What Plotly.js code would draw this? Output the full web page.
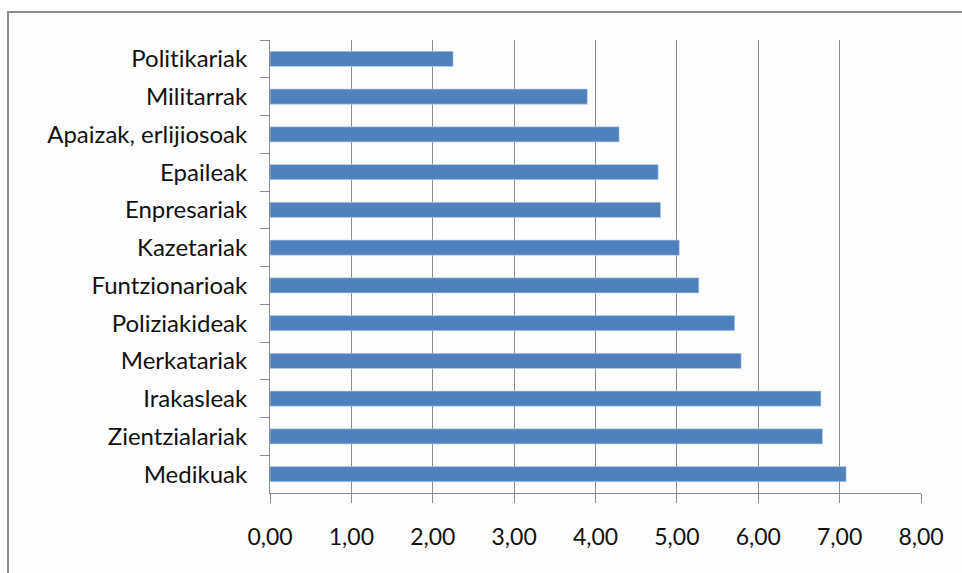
<!DOCTYPE html>
<html>
<head>
<meta charset="utf-8">
<script src="https://cdn.plot.ly/plotly-3.0.1.min.js"></script>
<style>
  html, body { margin: 0; padding: 0; background: #ffffff; }
  #wrap { position: relative; width: 962px; height: 573px; overflow: hidden; }
  #frame { position: absolute; left: 7px; top: 11px; width: 1000px; height: 600px;
           border-left: 2px solid #8c8c8c; border-top: 2px solid #8c8c8c;
           background: #fdfdfd; box-sizing: border-box; }
  #chart { position: absolute; left: 0; top: 0; width: 962px; height: 573px; }
  #chart text { font-variant-ligatures: none; font-feature-settings: "liga" 0, "clig" 0; }
</style>
</head>
<body>
<div id="wrap">
  <div id="frame"></div>
  <div id="chart"></div>
</div>
<script>
const categories = ["Politikariak", "Militarrak", "Apaizak, erlijiosoak", "Epaileak", "Enpresariak",
  "Kazetariak", "Funtzionarioak", "Poliziakideak", "Merkatariak", "Irakasleak", "Zientzialariak", "Medikuak"];
const values = [2.25, 3.90, 4.29, 4.77, 4.80, 5.03, 5.27, 5.71, 5.79, 6.77, 6.79, 7.08];
const xTickValues = [0, 1, 2, 3, 4, 5, 6, 7, 8];
const xTickLabels = ["0,00", "1,00", "2,00", "3,00", "4,00", "5,00", "6,00", "7,00", "8,00"];

const trace = {
  type: "bar",
  orientation: "h",
  y: categories,
  x: values,
  marker: { color: "#4f81bd", line: { color: "#c5d5ea", width: 0.6 } },
  hoverinfo: "x+y"
};

const layout = {
  width: 962,
  height: 573,
  margin: { l: 270, r: 41, t: 40, b: 80 },
  paper_bgcolor: "rgba(0,0,0,0)",
  plot_bgcolor: "rgba(0,0,0,0)",
  bargap: 0.6,
  showlegend: false,
  font: { family: "Lato, 'Open Sans', sans-serif", size: 23, color: "#111111" },
  xaxis: {
    range: [0, 8],
    tickmode: "array",
    tickvals: xTickValues,
    ticktext: xTickLabels,
    tickfont: { size: 23 },
    showgrid: true,
    gridcolor: "#8c8c8c",
    gridwidth: 1,
    zeroline: false,
    showline: true,
    linecolor: "#8c8c8c",
    linewidth: 1,
    ticks: "outside",
    ticklen: 9,
    tickcolor: "#8c8c8c",
    ticklabelstandoff: 14,
    fixedrange: true
  },
  yaxis: {
    autorange: "reversed",
    type: "category",
    tickfont: { size: 24 },
    showgrid: false,
    zeroline: false,
    showline: true,
    linecolor: "#8c8c8c",
    linewidth: 1,
    ticks: "outside",
    tickson: "boundaries",
    ticklen: 9,
    tickcolor: "#8c8c8c",
    ticklabelstandoff: 17,
    fixedrange: true
  }
};

Plotly.newPlot("chart", [trace], layout, { displayModeBar: false, staticPlot: true });
</script>
</body>
</html>
